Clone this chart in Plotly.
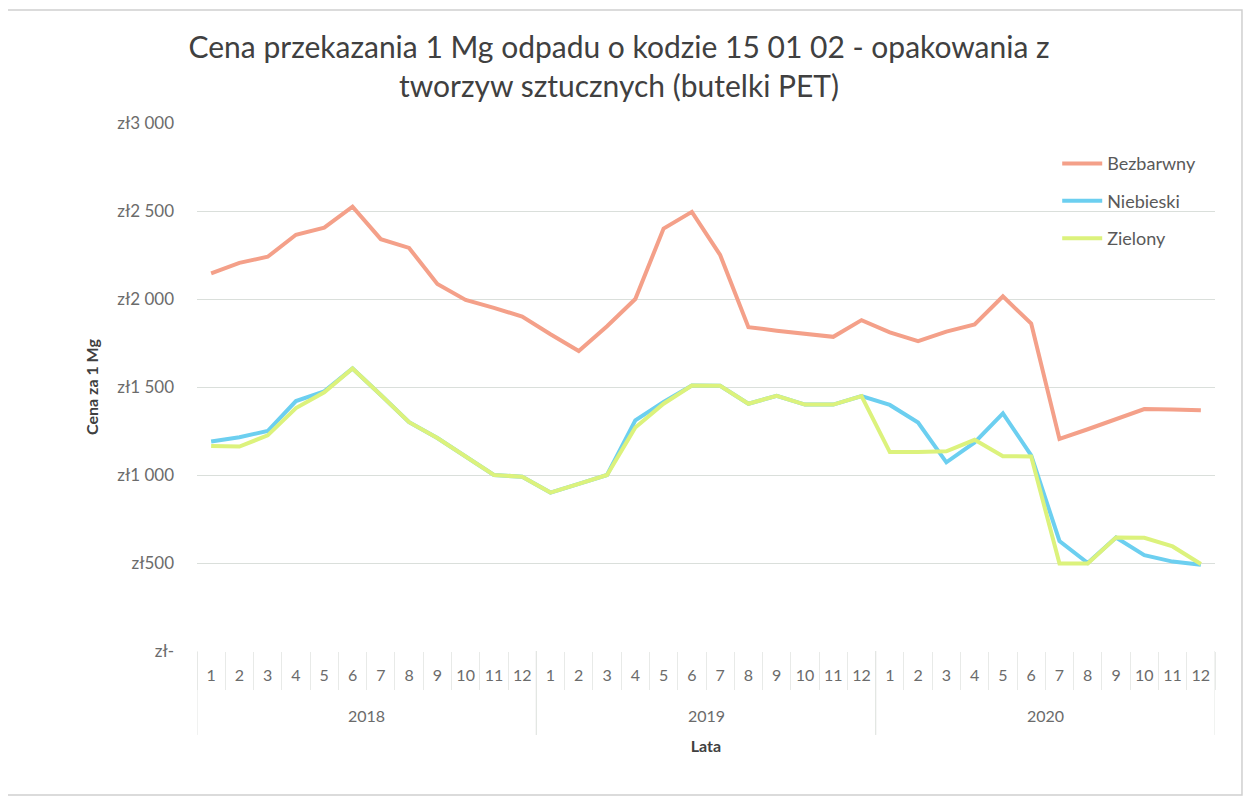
import plotly.graph_objects as go

months = [str(m) for m in range(1, 13)] * 3
years = ["2018"] * 12 + ["2019"] * 12 + ["2020"] * 12

bezbarwny = [2145, 2205, 2240, 2365, 2405, 2525, 2340, 2290, 2085, 1995, 1950, 1900,
             1800, 1705, 1845, 2000, 2400, 2495, 2250, 1840, 1820, 1800, 1785, 1880,
             1810, 1760, 1815, 1855, 2015, 1860, 1205, 1260, 1315, 1375, 1372, 1368]
niebieski = [1190, 1215, 1250, 1420, 1475, 1605, 1455, 1300, 1210, 1105, 1000, 990,
             900, 950, 1000, 1310, 1415, 1508, 1507, 1405, 1450, 1400, 1400, 1448,
             1398, 1298, 1072, 1185, 1350, 1112, 625, 500, 645, 545, 508, 490]
zielony = [1165, 1162, 1225, 1380, 1470, 1605, 1455, 1300, 1210, 1105, 1000, 990,
           900, 950, 1000, 1270, 1405, 1508, 1507, 1405, 1450, 1400, 1400, 1448,
           1130, 1130, 1135, 1200, 1107, 1105, 497, 497, 645, 643, 594, 494]

series_names = ["Bezbarwny", "Niebieski", "Zielony"]
series_colors = ["#F4A089", "#6CCFF0", "#DCF27C"]
y_tickvals = [0, 500, 1000, 1500, 2000, 2500, 3000]
y_ticktext = ["zł-", "zł500", "zł1 000", "zł1 500", "zł2 000", "zł2 500", "zł3 000"]

FONT = "Lato"

# category keys (year-month) and their display labels
x_keys = [f"{y}-{m}" for y, m in zip(years, months)]
year_list = list(dict.fromkeys(years))

fig = go.Figure()
for name, vals, col in zip(series_names, [bezbarwny, niebieski, zielony], series_colors):
    fig.add_trace(go.Scatter(
        x=x_keys, y=vals, name=name, mode="lines",
        line=dict(color=col, width=4), legendgroup=name,
    ))

# year group labels and dividers
shapes = []
annotations = []
for yr in year_list:
    idx = [i for i, y in enumerate(years) if y == yr]
    annotations.append(dict(
        x=(idx[0] + idx[-1]) / 2, xref="x", y=-0.123, yref="paper",
        text=yr, showarrow=False, xanchor="center", yanchor="middle",
        font=dict(family=FONT, size=16, color="#6b6b6b"),
    ))
    for b in (idx[0] - 0.5, idx[-1] + 0.5):
        shapes.append(dict(type="line", xref="x", yref="paper",
                           x0=b, x1=b, y0=0, y1=-0.159,
                           line=dict(color="#E3E6E3", width=1)))
# scanned page frame
shapes.append(dict(type="rect", xref="paper", yref="paper",
                   x0=-0.1915, x1=1.0265, y0=-0.2727, y1=1.214,
                   line=dict(color="#D0D0D0", width=1.5), layer="below"))

fig.update_layout(
    width=1243, height=793,
    paper_bgcolor="white", plot_bgcolor="white",
    margin=dict(l=189, r=36, t=115, b=150),
    font=dict(family=FONT, color="#595959", size=14),
    title=dict(
        text="Cena przekazania 1 Mg odpadu o kodzie 15 01 02 - opakowania z<br>tworzyw sztucznych (butelki PET)",
        x=0.4916, xanchor="center", y=0.9367, yanchor="middle",
        font=dict(family=FONT, size=30, color="#404040"),
    ),
    legend=dict(
        x=0.845, xanchor="left", y=0.958, yanchor="top",
        font=dict(family=FONT, size=18, color="#595959"),
        bgcolor="rgba(0,0,0,0)", tracegroupgap=11, itemwidth=40,
    ),
    showlegend=True,
    shapes=shapes,
    annotations=annotations,
)

fig.update_yaxes(
    range=[0, 3000], tickvals=y_tickvals, ticktext=y_ticktext,
    showgrid=True, gridcolor="#DADFDB", gridwidth=1, zeroline=False,
    showline=False, ticks="", ticklabelstandoff=22,
    tickfont=dict(size=17, color="#6b6b6b"),
    title=dict(text="<b>Cena za 1 Mg</b>", standoff=14,
               font=dict(family=FONT, size=16, color="#404040")),
)
fig.update_xaxes(
    type="category", range=[-0.5, len(x_keys) - 0.5],
    tickvals=x_keys, ticktext=months, tickson="boundaries",
    showgrid=False, showline=False,
    ticks="outside", ticklen=38, tickcolor="#E8EAE8",
    ticklabelstandoff=13,
    tickfont=dict(size=16, color="#6b6b6b"),
    title=dict(text="<b>Lata</b>", standoff=57,
               font=dict(family=FONT, size=16, color="#404040")),
)

fig.write_html("out.html")
